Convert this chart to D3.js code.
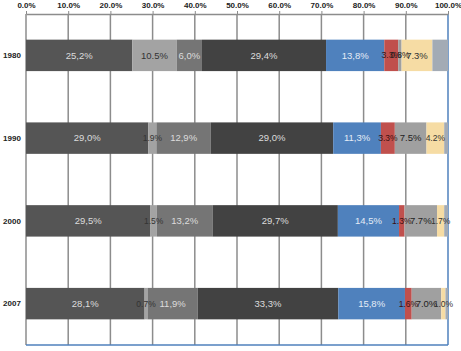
<!DOCTYPE html>
<html>
<head>
<meta charset="utf-8">
<script src="https://cdn.jsdelivr.net/npm/d3@7"></script>
<style>
  body { margin: 0; background: #fff; }
  svg { display: block; font-family: "Liberation Sans Narrow", "Liberation Sans", Arial, sans-serif; }
</style>
</head>
<body>
<svg id="chart" width="461" height="351"></svg>
<script>
// data
var years = ["1980", "1990", "2000", "2007"];
var s1 = [25.2, 29.0, 29.5, 28.1];
var s2 = [10.5, 1.9, 1.5, 0.7];
var s3 = [6.0, 12.9, 13.2, 11.9];
var s4 = [29.4, 29.0, 29.7, 33.3];
var s5 = [13.8, 11.3, 14.5, 15.8];
var s6 = [3.3, 3.3, 1.3, 1.6];
var s7 = [0.8, 7.5, 7.7, 7.0];
var s8 = [7.3, 4.2, 1.7, 1.0];
var s9 = [3.7, 0.9, 0.9, 0.6];
var tickValues = [0, 10, 20, 30, 40, 50, 60, 70, 80, 90, 100];

var series = [
  { vals: s1, fill: "#555555", text: "#dcdcdc", label: true, comma: true },
  { vals: s2, fill: "#a3a3a3", text: "#333333", label: true, comma: false },
  { vals: s3, fill: "#757575", text: "#dcdcdc", label: true, comma: true },
  { vals: s4, fill: "#424242", text: "#dcdcdc", label: true, comma: true },
  { vals: s5, fill: "#4f81bd", text: "#e4ecf6", label: true, comma: true },
  { vals: s6, fill: "#c0504d", text: "#3a1010", label: true, comma: false },
  { vals: s7, fill: "#a0a0a0", text: "#222222", label: true, comma: false },
  { vals: s8, fill: "#f6dca4", text: "#333333", label: true, comma: false },
  { vals: s9, fill: "#a3abb5", text: "#333333", label: false, comma: false }
];

var svg = d3.select("#chart");
var margin = { top: 14, right: 13, bottom: 6, left: 26 };
var width = +svg.attr("width") - margin.left - margin.right;
var height = +svg.attr("height") - margin.top - margin.bottom;

var x = d3.scaleLinear().domain([0, 100]).range([0, width]);
var y = d3.scaleBand().domain(years).range([0, height]).paddingInner(0.62).paddingOuter(0.31);

var g = svg.append("g").attr("transform", "translate(" + margin.left + "," + margin.top + ")");

// gridlines
g.selectAll(".grid").data(tickValues).enter().append("line")
  .attr("class", "grid")
  .attr("x1", function(d) { return x(d); })
  .attr("x2", function(d) { return x(d); })
  .attr("y1", 0).attr("y2", height)
  .attr("stroke", function(d) { return d == 100 ? "#4f81bd" : "#8c8c8c"; })
  .attr("stroke-width", 1.5);

// bottom blue line
g.append("line")
  .attr("x1", 0).attr("x2", width)
  .attr("y1", height).attr("y2", height)
  .attr("stroke", "#4f81bd").attr("stroke-width", 1.5);

// top axis
var axis = g.append("g")
  .call(d3.axisTop(x).tickValues(tickValues).tickSize(3).tickSizeOuter(0)
    .tickFormat(function(d) { return d.toFixed(1) + "%"; }));
axis.select(".domain").attr("stroke", "#8c8c8c").attr("stroke-width", 1.5);
axis.selectAll(".tick line").attr("stroke", "#8c8c8c");
axis.selectAll(".tick text")
  .attr("font-size", 8).attr("font-weight", "bold").attr("fill", "#222")
  .attr("font-family", "'Liberation Sans', Arial, sans-serif")
  .attr("dy", "-0.05em");

// year labels
g.selectAll(".year").data(years).enter().append("text")
  .attr("class", "year")
  .attr("x", -14)
  .attr("y", function(d) { return y(d) + y.bandwidth() / 2; })
  .attr("dy", "0.35em")
  .attr("text-anchor", "middle")
  .attr("font-size", 8).attr("font-weight", "bold").attr("fill", "#222")
  .attr("font-family", "'Liberation Sans', Arial, sans-serif")
  .text(function(d) { return d; });

// stacked segments
var cum = years.map(function() { return 0; });
var segs = [];
series.forEach(function(s) {
  years.forEach(function(yr, i) {
    segs.push({ year: yr, x0: cum[i], v: s.vals[i], s: s });
    cum[i] += s.vals[i];
  });
});

g.selectAll(".seg").data(segs).enter().append("rect")
  .attr("class", "seg")
  .attr("x", function(d) { return x(d.x0); })
  .attr("y", function(d) { return y(d.year); })
  .attr("width", function(d) { return x(d.x0 + d.v) - x(d.x0); })
  .attr("height", y.bandwidth())
  .attr("fill", function(d) { return d.s.fill; });

g.selectAll(".lbl").data(segs.filter(function(d) { return d.s.label; })).enter().append("text")
  .attr("class", "lbl")
  .attr("x", function(d) { return x(d.x0 + d.v / 2); })
  .attr("y", function(d) { return y(d.year) + y.bandwidth() / 2; })
  .attr("dy", "0.35em")
  .attr("text-anchor", "middle")
  .attr("font-size", function(d) { return d.v < 5 ? 8.5 : 9.5; })
  .attr("fill", function(d) { return d.s.text; })
  .text(function(d) {
    var t = d.v.toFixed(1) + "%";
    return d.s.comma ? t.replace(".", ",") : t;
  });
</script>
</body>
</html>
